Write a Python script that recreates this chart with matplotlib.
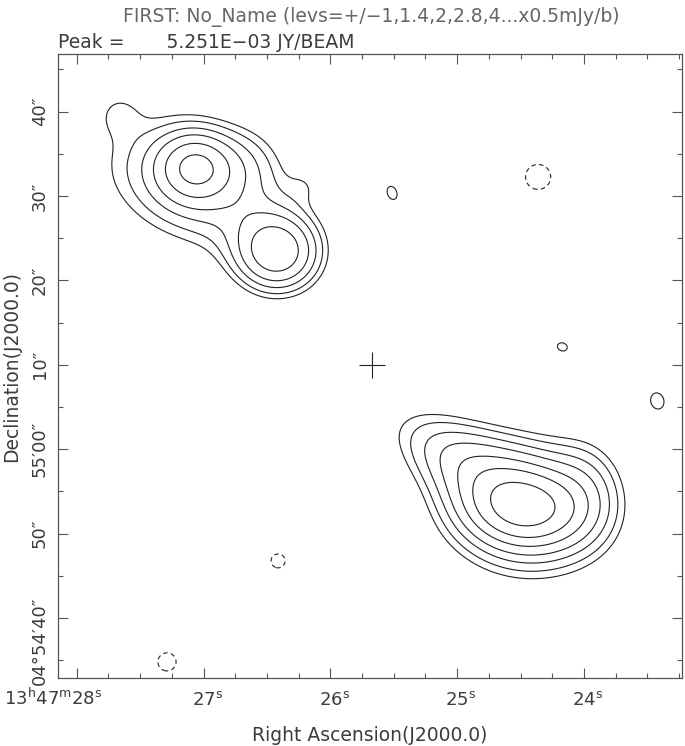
import numpy as np
import matplotlib.pyplot as plt

# map centre / pointing cross: 13h47m25.67s +04d55'10"
cross_ra, cross_dec = 25.67, 70.0
cosdec = np.cos(np.radians(4.92))

# gaussian pieces
# ra in seconds past 13h47m, dec in arcsec past +04d54', peak in mJy/beam, widths in arcsec
# angle: major axis, counter-clockwise from west (plot right)
src_ra   = [27.066, 27.089, 26.420, 26.712, 26.195, 27.674, 26.672,
            24.472, 24.472, 24.900, 23.990,
            25.513, 24.171, 23.422, 24.362, 26.412, 27.288]
src_dec  = [93.45, 91.67, 83.38, 87.76, 91.20, 99.97, 93.90,
            53.15, 53.15, 58.10, 55.20,
            90.37, 72.12, 65.72, 92.26, 46.76, 34.79]
src_peak = [2.0, 1.15, 2.4, 0.2, 0.25, 0.35, 0.4,
            2.4, 2.25, 1.3, 0.6,
            0.55, 0.54, 0.56, -0.6, -0.55, -0.56]
src_smaj = [2.8, 7.5, 3.2, 7.0, 1.5, 2.0, 3.0,
            4.0, 6.0, 6.5, 3.0,
            1.75, 1.5, 2.0, 2.45, 1.9, 2.25]
src_smin = [2.6, 5.0, 3.0, 3.5, 1.5, 2.0, 3.0,
            2.6, 4.8, 3.0, 4.0,
            1.2, 1.2, 1.6, 2.45, 1.9, 2.25]
src_ang  = [0, -20, 0, -45, 0, 0, 0,
            -5, -10, -30, 0,
            110, -20, 105, 0, 0, 0]

levels_neg = [-0.5]
levels_pos = [0.5, 0.7, 1.0, 1.4, 2.0, 2.8, 4.0, 5.6]

ra_ticks = [28, 27, 26, 25, 24]
ra_labels = ['13$^{\\mathrm{h}}$47$^{\\mathrm{m}}$28$^{\\mathrm{s}}$',
             '27$^{\\mathrm{s}}$', '26$^{\\mathrm{s}}$', '25$^{\\mathrm{s}}$', '24$^{\\mathrm{s}}$']
dec_ticks = [40, 50, 60, 70, 80, 90, 100]
dec_labels = ['04\u00b054\u203240\u2033', '50\u2033', '55\u203200\u2033',
              '10\u2033', '20\u2033', '30\u2033', '40\u2033']

ra_lim = (28.145, 23.230)
dec_lim = (32.85, 106.80)

# build the map
ra = np.linspace(ra_lim[0], ra_lim[1], 500)
dec = np.linspace(dec_lim[0], dec_lim[1], 500)
RA, DEC = np.meshgrid(ra, dec)
flux = np.zeros_like(RA)
for r0, d0, a, smaj, smin, ang in zip(src_ra, src_dec, src_peak, src_smaj, src_smin, src_ang):
    u = (r0 - RA) * 15 * cosdec      # arcsec towards the right of the plot
    v = DEC - d0
    t = np.radians(ang)
    up = u * np.cos(t) + v * np.sin(t)
    vp = -u * np.sin(t) + v * np.cos(t)
    flux += a * np.exp(-0.5 * ((up / smaj) ** 2 + (vp / smin) ** 2))

txt = '#3c3c3c'
fig = plt.figure(figsize=(6.85, 7.46), dpi=100)
ax = fig.add_axes([0.0851, 0.0908, 0.9101, 0.8365])

ax.contour(RA, DEC, flux, levels=levels_pos, colors='#222222', linewidths=0.8)
ax.contour(RA, DEC, flux, levels=levels_neg, colors='#222222', linewidths=0.8,
           linestyles=[(0, (4, 3))])
ax.plot(cross_ra, cross_dec, marker='+', ms=19, mew=0.8, color='#222222')

ax.set_xlim(ra_lim)
ax.set_ylim(dec_lim)

ax.set_xticks(ra_ticks)
ax.set_xticks(np.arange(23.25, 28.2, 0.25), minor=True)
ax.set_yticks(dec_ticks)
ax.set_yticks(np.arange(35, 106, 5), minor=True)
ax.set_xticklabels([])
ax.set_yticklabels([])
ax.tick_params(which='both', direction='in', top=True, right=True, color='#555555', width=0.8)
ax.tick_params(which='major', length=7)
ax.tick_params(which='minor', length=3.6)
for s in ax.spines.values():
    s.set_color('#555555')
    s.set_linewidth(0.9)

fs = 13.5
for i, (t, lab) in enumerate(zip(ra_ticks, ra_labels)):
    if i == 0:
        ax.text(t - 0.2, -0.043, lab, transform=ax.get_xaxis_transform(),
                ha='right', va='baseline', fontsize=fs - 0.5, color=txt)
    else:
        ax.text(t - 0.03, -0.043, lab, transform=ax.get_xaxis_transform(),
                ha='center', va='baseline', fontsize=fs - 0.5, color=txt)

for i, (t, lab) in enumerate(zip(dec_ticks, dec_labels)):
    if i == 0:
        ax.text(-0.0213, 42.5, lab, transform=ax.get_yaxis_transform(), rotation=90,
                rotation_mode='anchor', ha='right', va='baseline', fontsize=fs - 0.5, color=txt)
    else:
        ax.text(-0.0213, t, lab, transform=ax.get_yaxis_transform(), rotation=90,
                rotation_mode='anchor', ha='center', va='baseline', fontsize=fs - 0.5, color=txt)

ax.text(0.5, -0.1005, 'Right Ascension(J2000.0)', transform=ax.transAxes,
        ha='center', va='baseline', fontsize=fs, color=txt)
ax.text(-0.0662, 0.5, 'Declination(J2000.0)', transform=ax.transAxes, rotation=90,
        rotation_mode='anchor', ha='center', va='baseline', fontsize=fs, color=txt)

fig.text(371 / 685, 1 - 22 / 746, 'FIRST: No_Name (levs=+/\u22121,1.4,2,2.8,4...x0.5mJy/b)',
         ha='center', va='baseline', fontsize=fs, color='#666666')
fig.text(58.3 / 685, 1 - 48 / 746, 'Peak =       5.251E\u221203 JY/BEAM',
         ha='left', va='baseline', fontsize=fs, color=txt)

fig.savefig('out.png', dpi=100)
